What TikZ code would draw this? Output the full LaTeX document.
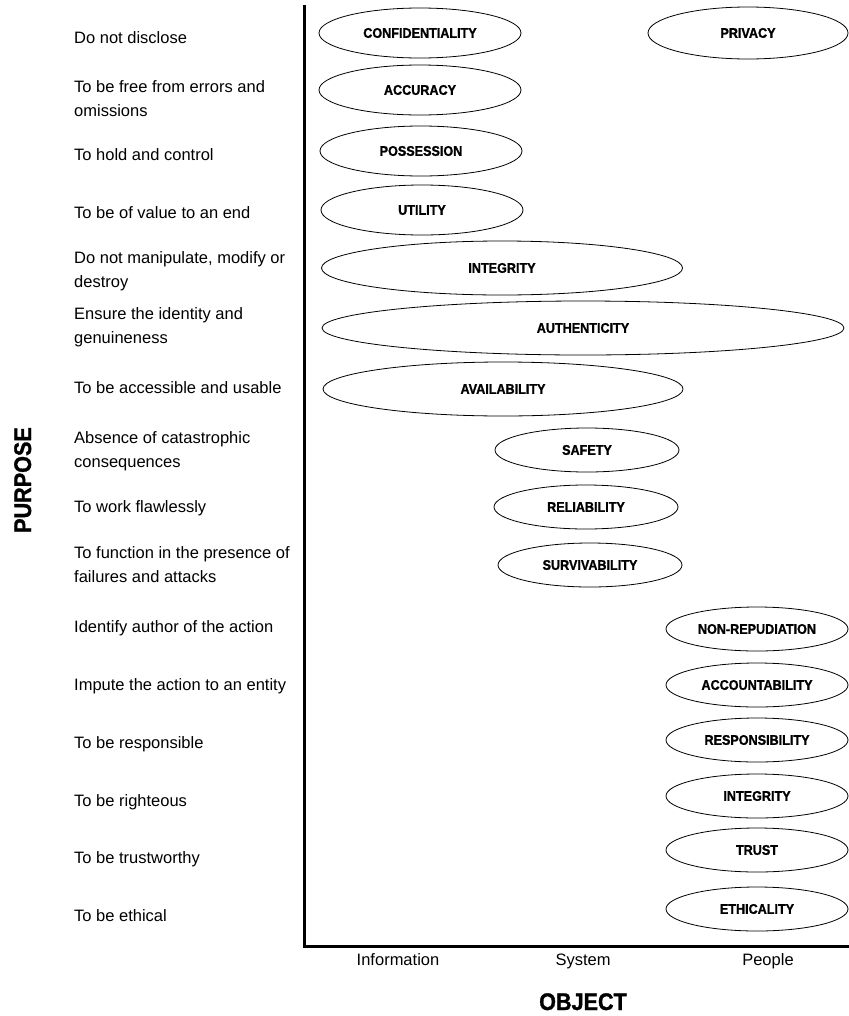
\documentclass[tikz,border=0pt]{standalone}
\usepackage{fontspec}
\setmainfont{Liberation Sans}
\newfontfamily\ovalfont{Liberation Sans}[FakeStretch=0.9,BoldFeatures={FakeBold=1.2}]
\usetikzlibrary{shapes.geometric}

\tikzset{
  oval/.style={draw, line width=0.8bp, ellipse, inner sep=0pt,
    font=\ovalfont\bfseries\fontsize{14bp}{16bp}\selectfont},
  infooval/.style={oval, minimum width=202bp, minimum height=50bp},
  wideoval/.style={oval, minimum height=54bp},
  sysoval/.style={oval, minimum width=184bp, minimum height=44bp},
  peopleoval/.style={oval, minimum width=182bp, minimum height=44bp},
  purpose/.style={anchor=base west, inner sep=0pt,
    font=\fontsize{16.5bp}{24bp}\selectfont},
  objlabel/.style={anchor=base, inner sep=0pt,
    font=\fontsize{16.5bp}{20bp}\selectfont},
  axistitle/.style={inner sep=0pt,
    font=\ovalfont\bfseries\fontsize{24bp}{28bp}\selectfont},
}

\newcommand{\twoline}[2]{\begin{tabular}[t]{@{}l@{}}#1\\#2\end{tabular}}

\begin{document}
\begin{tikzpicture}[x=1bp,y=-1bp]
  \useasboundingbox (0,0) rectangle (849,1016);

  % axes
  \coordinate (ytop) at (304,5);
  \coordinate (origin) at (304,946);
  \coordinate (xend) at (849,946);
  \draw[line width=3bp] (ytop) -- (origin) -- (xend);

  % purposes
  \node[purpose] (p1)  at (74,43)  {Do not disclose};
  \node[purpose] (p2)  at (74,92)  {\twoline{To be free from errors and}{omissions}};
  \node[purpose] (p3)  at (74,160) {To hold and control};
  \node[purpose] (p4)  at (74,218) {To be of value to an end};
  \node[purpose] (p5)  at (74,263) {\twoline{Do not manipulate, modify or}{destroy}};
  \node[purpose] (p6)  at (74,319) {\twoline{Ensure the identity and}{genuineness}};
  \node[purpose] (p7)  at (74,393) {To be accessible and usable};
  \node[purpose] (p8)  at (74,443) {\twoline{Absence of catastrophic}{consequences}};
  \node[purpose] (p9)  at (74,512) {To work flawlessly};
  \node[purpose] (p10) at (74,558) {\twoline{To function in the presence of}{failures and attacks}};
  \node[purpose] (p11) at (74,632) {Identify author of the action};
  \node[purpose] (p12) at (74,690) {Impute the action to an entity};
  \node[purpose] (p13) at (74,748) {To be responsible};
  \node[purpose] (p14) at (74,806) {To be righteous};
  \node[purpose] (p15) at (74,863) {To be trustworthy};
  \node[purpose] (p16) at (74,921) {To be ethical};

  % information properties
  \node[infooval] (conf) at (420,33)  {CONFIDENTIALITY};
  \node[infooval] (accu) at (420,90)  {ACCURACY};
  \node[infooval] (poss) at (421,151) {POSSESSION};
  \node[infooval] (util) at (422,210) {UTILITY};
  \node[wideoval, minimum width=361bp] (integ) at (502,268) {INTEGRITY};
  \node[wideoval, minimum width=522bp] (auth)  at (583,328) {AUTHENTICITY};
  \node[wideoval, minimum width=360bp] (avail) at (503,389) {AVAILABILITY};
  \node[oval, minimum width=200bp, minimum height=52bp] (priv) at (748,33) {PRIVACY};

  % system properties
  \node[sysoval] (safe) at (587,450) {SAFETY};
  \node[sysoval] (reli) at (586,507) {RELIABILITY};
  \node[sysoval] (surv) at (590,565) {SURVIVABILITY};

  % people properties
  \node[peopleoval] (nonrep) at (757,629) {NON-REPUDIATION};
  \node[peopleoval] (acct)   at (757,685) {ACCOUNTABILITY};
  \node[peopleoval] (resp)   at (757,740) {RESPONSIBILITY};
  \node[peopleoval] (pinteg) at (757,796) {INTEGRITY};
  \node[peopleoval] (trust)  at (757,850) {TRUST};
  \node[peopleoval] (ethic)  at (757,909) {ETHICALITY};

  % object categories
  \node[objlabel] (info) at (398,965) {Information};
  \node[objlabel] (sys)  at (583,965) {System};
  \node[objlabel] (ppl)  at (768,965) {People};

  % axis titles
  \node[axistitle, anchor=base] (objtitle) at (583,1010) {OBJECT};
  \node[axistitle, anchor=base, rotate=90] (purptitle) at (31,480) {PURPOSE};
\end{tikzpicture}
\end{document}
